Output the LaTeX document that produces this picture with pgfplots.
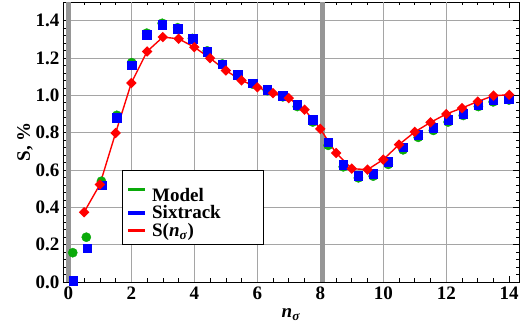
\documentclass[border=0pt]{standalone}
\usepackage{fontspec}
\setmainfont{Liberation Serif}
\usepackage{pgfplots}
\usepackage{pgfplotstable}
\pgfplotsset{compat=1.18}
\definecolor{mgreen}{RGB}{10,170,10}
\definecolor{mblue}{RGB}{0,0,255}
\definecolor{mred}{RGB}{255,0,0}
\definecolor{band}{RGB}{150,150,150}
\definecolor{gridc}{RGB}{165,165,165}
\pgfplotstableread{
x y
0.14 0.157
0.57 0.240
1.05 0.540
1.54 0.893
2.01 1.175
2.49 1.333
2.98 1.386
3.47 1.362
3.94 1.305
4.41 1.238
4.89 1.168
5.37 1.108
5.85 1.060
6.32 1.025
6.81 0.992
7.27 0.940
7.76 0.857
8.25 0.732
8.73 0.617
9.21 0.558
9.68 0.567
10.16 0.630
10.63 0.708
11.11 0.775
11.59 0.812
12.06 0.857
12.54 0.892
13.02 0.940
13.49 0.965
13.99 0.975
}\model
\pgfplotstableread{
x y
0.16 0.008
0.60 0.181
1.08 0.518
1.54 0.879
2.01 1.162
2.49 1.324
2.98 1.378
3.47 1.356
3.94 1.303
4.41 1.235
4.89 1.167
5.37 1.110
5.85 1.066
6.32 1.030
6.81 0.998
7.27 0.950
7.76 0.870
8.25 0.748
8.73 0.629
9.21 0.570
9.68 0.579
10.16 0.643
10.63 0.723
11.11 0.788
11.59 0.825
12.06 0.870
12.54 0.903
13.02 0.950
13.49 0.973
13.99 0.980
}\sixtrack
\pgfplotstableread{
x y
0.5 0.374
1.0 0.522
1.5 0.798
2.0 1.066
2.5 1.235
3.0 1.312
3.5 1.303
4.0 1.258
4.5 1.199
5.0 1.133
5.5 1.080
6.0 1.043
6.5 1.012
7.0 0.985
7.5 0.923
8.0 0.820
8.5 0.691
9.0 0.607
9.5 0.602
10.0 0.656
10.5 0.736
11.0 0.804
11.5 0.855
12.0 0.900
12.5 0.932
13.0 0.967
13.5 0.998
14.0 1.003
}\snsig
\newcommand{\bigf}{\fontsize{19bp}{21bp}\selectfont\bfseries}
\begin{document}
\begin{tikzpicture}
\path[use as bounding box] (-63bp,-54bp) rectangle (457bp,282bp);
\begin{axis}[
  scale only axis,
  width=456bp, height=280bp,
  xmin=-0.17, xmax=14.31,
  ymin=0, ymax=1.5,
  xtick={0,2,4,6,8,10,12,14},
  ytick={0,0.2,0.4,0.6,0.8,1.0,1.2,1.4},
  minor x tick num=3,
  minor y tick num=4,
  tick align=inside,
  major tick length=6bp,
  minor tick length=3.5bp,
  tick style={black, line width=0.6pt},
  axis line style={black, line width=0.6pt},
  /pgf/number format/assume math mode=true,
  yticklabel style={/pgf/number format/fixed, /pgf/number format/fixed zerofill, /pgf/number format/precision=1},
  ticklabel style={font=\bigf},
  xticklabel style={yshift=-1bp},
  major grid style={gridc, line width=0.8pt},
  ymajorgrids,
  clip=true,
  xlabel={\bigf\textit{n}\textsubscript{\textit{σ}}},
  ylabel={\bigf S, \%},
  xlabel style={yshift=-2bp},
  ylabel style={yshift=-4bp},
  legend style={at={(0.13,0.401)}, anchor=north west, draw=black, line width=0.6pt, fill=white,
    font=\bigf, row sep=-1bp, column sep=6bp, inner xsep=5bp, inner ysep=4bp, cells={anchor=west}},
]
% vertical grid lines (no line at 0, 8, 14)
\addplot[gridc, line width=0.8pt, forget plot] coordinates {(2,0) (2,1.5)};
\addplot[gridc, line width=0.8pt, forget plot] coordinates {(4,0) (4,1.5)};
\addplot[gridc, line width=0.8pt, forget plot] coordinates {(6,0) (6,1.5)};
\addplot[gridc, line width=0.8pt, forget plot] coordinates {(10,0) (10,1.5)};
\addplot[gridc, line width=0.8pt, forget plot] coordinates {(12,0) (12,1.5)};
% grey bands
\addplot[band, line width=5.5bp, forget plot] coordinates {(0.0,0) (0.0,1.5)};
\addplot[band, line width=5.5bp, forget plot] coordinates {(8.07,0) (8.07,1.5)};
\addlegendimage{legend image code/.code={\fill[mgreen] (0bp,-1.2bp) rectangle (16bp,1.2bp);}}
\addlegendentry{\makebox[104bp][l]{\rule{0pt}{25bp}Model}}
\addlegendimage{legend image code/.code={\fill[mblue] (0bp,-1.2bp) rectangle (16bp,1.2bp);}}
\addlegendentry{\makebox[104bp][l]{Sixtrack}}
\addlegendimage{legend image code/.code={\fill[mred] (0bp,-1.2bp) rectangle (16bp,1.2bp);}}
\addlegendentry{\makebox[104bp][l]{S(\textit{n}\textsubscript{\textit{σ}})}}
\addplot[only marks, mark=*, mark size=4.6bp, mgreen, mark options={draw=none, fill=mgreen}, forget plot] table[x=x,y=y] {\model};
\addplot[only marks, mark=square*, mark size=4.3bp, mblue, mark options={draw=none, fill=mblue}, forget plot] table[x=x,y=y] {\sixtrack};
\addplot[mred, line width=1.4pt, mark=square*, mark size=3.0bp, mark options={rotate=45, draw=none, fill=mred}, forget plot] table[x=x,y=y] {\snsig};
\end{axis}
\end{tikzpicture}
\end{document}
